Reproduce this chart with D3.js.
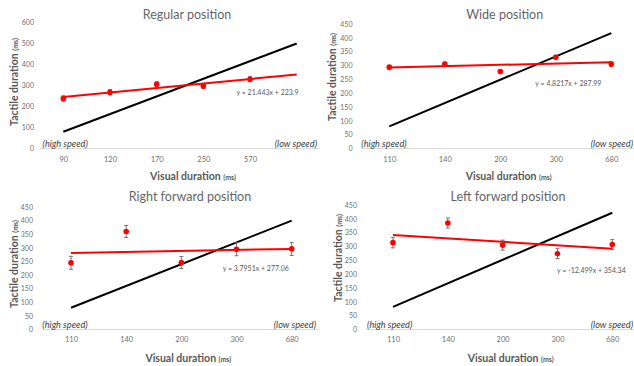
<!DOCTYPE html>
<html>
<head>
<meta charset="utf-8">
<script src="https://cdn.jsdelivr.net/npm/d3@7"></script>
<style>
  html, body { margin: 0; padding: 0; background: #fff; }
  svg { display: block; }
  text { font-family: "Lato", "Liberation Sans", sans-serif; }
</style>
</head>
<body>
<svg id="chart" width="634" height="366"></svg>
<script>
// Visual duration categories (x axis) for each arm position
const regularCategories = ["90", "120", "170", "250", "570", ""];
const wideCategories = ["110", "140", "200", "300", "680"];
const rightForwardCategories = ["110", "140", "200", "300", "680"];
const leftForwardCategories = ["110", "140", "200", "300", "680"];

// Mean tactile duration (ms) and error bar half-widths
const regularMeans = [238, 268, 306, 298, 330];
const regularErrors = [13, 13, 12, 12, 12];
const wideMeans = [294, 305, 278, 330, 305];
const wideErrors = [6, 7, 6, 7, 8];
const rightForwardMeans = [245, 360, 246, 295, 296];
const rightForwardErrors = [24, 22, 22, 24, 24];
const leftForwardMeans = [314, 385, 305, 274, 307];
const leftForwardErrors = [19, 18, 18, 18, 18];

// Linear trend fits: y = slope * x + intercept (x = category index from 1)
const regularTrend = [21.443, 223.9];
const wideTrend = [4.8217, 287.99];
const rightForwardTrend = [3.7951, 277.06];
const leftForwardTrend = [-12.499, 354.34];

// Reference line: value at first and last category slot
const regularReference = [80, 500];
const wideReference = [80, 417];
const rightForwardReference = [80, 400];
const leftForwardReference = [82, 422];

// Y axis ticks
const regularTicks = [0, 100, 200, 300, 400, 500, 600];
const positionTicks = [0, 50, 100, 150, 200, 250, 300, 350, 400, 450];

const panels = [
  { title: "Regular position", cats: regularCategories, means: regularMeans, errs: regularErrors,
    trend: regularTrend, ref: regularReference, ticks: regularTicks, yMax: 600,
    layout: { x1: 63.3, xN: 296.7, y0: 148.5, yTop: 22.5, labelRight: 34, tickY: 159,
              titleX: 187, titleY: 14.5, yTitleX: 12, yTitleY: 82, xTitleX: 193, xTitleY: 174,
              eqX: 236.5, eqY: 93, highX: 42.5, lowX: 317, speedY: 143.7 } },
  { title: "Wide position", cats: wideCategories, means: wideMeans, errs: wideErrors,
    trend: wideTrend, ref: wideReference, ticks: positionTicks, yMax: 450,
    layout: { x1: 389.3, xN: 611.3, y0: 148.5, yTop: 24, labelRight: 352.5, tickY: 159,
              titleX: 504.7, titleY: 14.5, yTitleX: 330.5, yTitleY: 77, xTitleX: 508.7, xTitleY: 174,
              eqX: 535.3, eqY: 84, highX: 361.3, lowX: 633, speedY: 143.7 } },
  { title: "Right forward position", cats: rightForwardCategories, means: rightForwardMeans, errs: rightForwardErrors,
    trend: rightForwardTrend, ref: rightForwardReference, ticks: positionTicks, yMax: 450,
    layout: { x1: 71, xN: 291.7, y0: 329.5, yTop: 207, labelRight: 33, tickY: 339.7,
              titleX: 190, titleY: 196.3, yTitleX: 12, yTitleY: 264, xTitleX: 188.3, xTitleY: 356.3,
              eqX: 222.7, eqY: 268.7, highX: 42.3, lowX: 316, speedY: 324.3 } },
  { title: "Left forward position", cats: leftForwardCategories, means: leftForwardMeans, errs: leftForwardErrors,
    trend: leftForwardTrend, ref: leftForwardReference, ticks: positionTicks, yMax: 450,
    layout: { x1: 393, xN: 612.3, y0: 329.5, yTop: 205, labelRight: 357, tickY: 339.7,
              titleX: 508, titleY: 196.3, yTitleX: 336, yTitleY: 258, xTitleX: 510.7, xTitleY: 356.3,
              eqX: 557, eqY: 270.3, highX: 367, lowX: 633, speedY: 324.3 } }
];

const svg = d3.select("#chart");
const grey = "#595959";
const lightGrey = "#707070";

panels.forEach(p => {
  const L = p.layout;
  const n = p.cats.length;
  const idx = d3.range(1, n + 1);
  const x = d3.scaleLinear().domain([1, n]).range([L.x1, L.xN]);
  const y = d3.scaleLinear().domain([0, p.yMax]).range([L.y0, L.yTop]);
  const g = svg.append("g");

  // baseline spanning the category slots
  g.append("line")
    .attr("x1", x(0.5)).attr("x2", x(n + 0.5))
    .attr("y1", y(0)).attr("y2", y(0))
    .attr("stroke", "#d9d9d9").attr("stroke-width", 1);

  // y axis labels
  const yAxis = g.append("g")
    .attr("transform", `translate(${L.labelRight},0)`)
    .call(d3.axisLeft(y).tickValues(p.ticks).tickSize(0).tickPadding(0));
  yAxis.select(".domain").remove();
  yAxis.selectAll("text").attr("fill", lightGrey).style("font-size", "7px")
    .style("font-family", "Lato, 'Liberation Sans', sans-serif");

  // x axis labels
  const xAxis = g.append("g")
    .attr("transform", `translate(0,${L.tickY})`)
    .call(d3.axisBottom(x).tickValues(idx).tickFormat(i => p.cats[i - 1]).tickSize(0).tickPadding(0));
  xAxis.select(".domain").remove();
  xAxis.selectAll("text").attr("fill", lightGrey).attr("dy", "0.35em").attr("y", 0)
    .style("font-size", "7.5px").style("font-family", "Lato, 'Liberation Sans', sans-serif");

  // reference line
  g.append("line")
    .attr("x1", x(1)).attr("y1", y(p.ref[0]))
    .attr("x2", x(n)).attr("y2", y(p.ref[1]))
    .attr("stroke", "#000").attr("stroke-width", 2);

  // linear trend line from the fitted equation
  const trendY = i => p.trend[0] * i + p.trend[1];
  g.append("line")
    .attr("x1", x(1)).attr("y1", y(trendY(1)))
    .attr("x2", x(n)).attr("y2", y(trendY(n)))
    .attr("stroke", "#ff0000").attr("stroke-width", 2);

  // error bars
  const pts = p.means.map((m, i) => ({ i: i + 1, m, e: p.errs[i] }));
  const eb = g.append("g").attr("stroke", "#666").attr("stroke-width", 0.9);
  pts.forEach(d => {
    eb.append("line").attr("x1", x(d.i)).attr("x2", x(d.i)).attr("y1", y(d.m - d.e)).attr("y2", y(d.m + d.e));
    eb.append("line").attr("x1", x(d.i) - 2).attr("x2", x(d.i) + 2).attr("y1", y(d.m - d.e)).attr("y2", y(d.m - d.e));
    eb.append("line").attr("x1", x(d.i) - 2).attr("x2", x(d.i) + 2).attr("y1", y(d.m + d.e)).attr("y2", y(d.m + d.e));
  });

  // mean markers
  g.selectAll("circle.pt").data(pts).join("circle")
    .attr("class", "pt")
    .attr("cx", d => x(d.i)).attr("cy", d => y(d.m)).attr("r", 2.8)
    .attr("fill", "#ff0000");

  // trend equation
  const sign = p.trend[1] >= 0 ? "+" : "-";
  g.append("text")
    .attr("x", L.eqX).attr("y", L.eqY).attr("dy", "0.35em")
    .attr("fill", grey).style("font-size", "7px")
    .text(`y = ${p.trend[0]}x ${sign} ${Math.abs(p.trend[1])}`);

  // title
  g.append("text")
    .attr("x", L.titleX).attr("y", L.titleY).attr("dy", "0.35em")
    .attr("text-anchor", "middle").attr("fill", "#666")
    .style("font-size", "12.5px")
    .text(p.title);

  // y axis title
  const yt = g.append("text")
    .attr("transform", `translate(${L.yTitleX},${L.yTitleY}) rotate(-90)`)
    .attr("text-anchor", "middle").attr("dy", "0.35em")
    .attr("fill", grey).style("font-weight", "bold");
  yt.append("tspan").style("font-size", "10.5px").text("Tactile duration ");
  yt.append("tspan").style("font-size", "7px").text("(ms)");

  // x axis title
  const xt = g.append("text")
    .attr("x", L.xTitleX).attr("y", L.xTitleY).attr("dy", "0.35em")
    .attr("text-anchor", "middle").attr("fill", grey).style("font-weight", "bold");
  xt.append("tspan").style("font-size", "10.5px").text("Visual duration ");
  xt.append("tspan").style("font-size", "7px").text("(ms)");

  // speed annotations
  g.append("text")
    .attr("x", L.highX).attr("y", L.speedY).attr("dy", "0.35em")
    .attr("fill", "#404040").style("font-size", "9.2px").style("font-style", "italic")
    .text("(high speed)");
  g.append("text")
    .attr("x", L.lowX).attr("y", L.speedY).attr("dy", "0.35em")
    .attr("text-anchor", "end")
    .attr("fill", "#404040").style("font-size", "9.2px").style("font-style", "italic")
    .text("(low speed)");
});
</script>
</body>
</html>
